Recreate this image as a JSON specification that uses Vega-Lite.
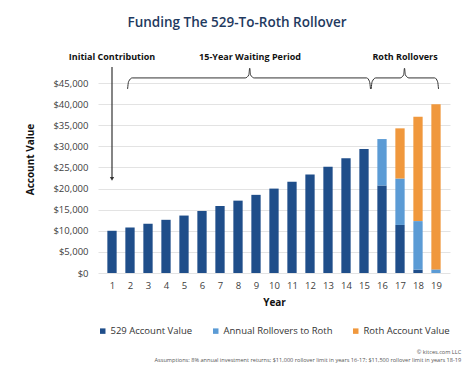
{
  "$schema": "https://vega.github.io/schema/vega-lite/v6.json",
  "width": 352,
  "height": 228,
  "autosize": {"type": "none"},
  "padding": {"left": 98, "top": 45, "right": 24, "bottom": 97},
  "background": "white",
  "config": {
    "font": "Open Sans",
    "view": {"stroke": null},
    "axis": {"labelFont": "Open Sans", "titleFont": "Open Sans", "labelOverlap": false},
    "legend": {"labelFont": "Open Sans"}
  },
  "title": {
    "text": "Funding The 529-To-Roth Rollover",
    "font": "Open Sans",
    "fontSize": 13.5,
    "fontWeight": 600,
    "color": "#1F3A60",
    "anchor": "middle",
    "dx": -37,
    "offset": 16
  },
  "datasets": {
    "bars": [
      {"year": 1, "series": "529 Account Value", "value": 10000},
      {"year": 2, "series": "529 Account Value", "value": 10800},
      {"year": 3, "series": "529 Account Value", "value": 11664},
      {"year": 4, "series": "529 Account Value", "value": 12597},
      {"year": 5, "series": "529 Account Value", "value": 13605},
      {"year": 6, "series": "529 Account Value", "value": 14693},
      {"year": 7, "series": "529 Account Value", "value": 15869},
      {"year": 8, "series": "529 Account Value", "value": 17138},
      {"year": 9, "series": "529 Account Value", "value": 18509},
      {"year": 10, "series": "529 Account Value", "value": 19990},
      {"year": 11, "series": "529 Account Value", "value": 21589},
      {"year": 12, "series": "529 Account Value", "value": 23316},
      {"year": 13, "series": "529 Account Value", "value": 25182},
      {"year": 14, "series": "529 Account Value", "value": 27196},
      {"year": 15, "series": "529 Account Value", "value": 29372},
      {"year": 16, "series": "529 Account Value", "value": 20722},
      {"year": 16, "series": "Annual Rollovers to Roth", "value": 11000},
      {"year": 17, "series": "529 Account Value", "value": 11380},
      {"year": 17, "series": "Annual Rollovers to Roth", "value": 11000},
      {"year": 17, "series": "Roth Account Value", "value": 11880},
      {"year": 18, "series": "529 Account Value", "value": 790},
      {"year": 18, "series": "Annual Rollovers to Roth", "value": 11500},
      {"year": 18, "series": "Roth Account Value", "value": 24710},
      {"year": 19, "series": "Annual Rollovers to Roth", "value": 853},
      {"year": 19, "series": "Roth Account Value", "value": 39107}
    ],
    "braces": [
      {"brace": "a", "year": 1.866, "value": 43600},
      {"brace": "a", "year": 1.92, "value": 45300},
      {"brace": "a", "year": 2.12, "value": 46200},
      {"brace": "a", "year": 8.4, "value": 46200},
      {"brace": "a", "year": 8.6, "value": 46900},
      {"brace": "a", "year": 8.65, "value": 48500},
      {"brace": "a", "year": 8.7, "value": 46900},
      {"brace": "a", "year": 8.9, "value": 46200},
      {"brace": "a", "year": 15.15, "value": 46200},
      {"brace": "a", "year": 15.31, "value": 45300},
      {"brace": "a", "year": 15.36, "value": 43600},
      {"brace": "b", "year": 15.4, "value": 43600},
      {"brace": "b", "year": 15.45, "value": 45300},
      {"brace": "b", "year": 15.65, "value": 46200},
      {"brace": "b", "year": 17.0, "value": 46200},
      {"brace": "b", "year": 17.2, "value": 46900},
      {"brace": "b", "year": 17.25, "value": 48500},
      {"brace": "b", "year": 17.3, "value": 46900},
      {"brace": "b", "year": 17.5, "value": 46200},
      {"brace": "b", "year": 18.93, "value": 46200},
      {"brace": "b", "year": 19.09, "value": 45300},
      {"brace": "b", "year": 19.14, "value": 43600}
    ],
    "labels": [
      {"year": 1, "value": 51200, "label": "Initial Contribution"},
      {"year": 8.67, "value": 51200, "label": "15-Year Waiting Period"},
      {"year": 17.28, "value": 51200, "label": "Roth Rollovers"}
    ],
    "arrow": [
      {"year": 1, "value": 48800, "value2": 22600}
    ],
    "arrowhead": [
      {"year": 1, "value": 22300}
    ],
    "notes": [
      {"year": 20.4, "value": -18700, "label": "© kitces.com LLC"},
      {"year": 20.4, "value": -20600, "label": "Assumptions: 8% annual investment returns; $11,000 rollover limit in years 16-17; $11,500 rollover limit in years 18-19"}
    ]
  },
  "layer": [
    {
      "data": {"name": "bars"},
      "mark": {"type": "bar", "width": 9.3},
      "encoding": {
        "x": {
          "field": "year", "type": "quantitative",
          "scale": {"domain": [0.5, 19.5], "nice": false, "zero": false},
          "axis": {
            "title": "Year", "values": [1,2,3,4,5,6,7,8,9,10,11,12,13,14,15,16,17,18,19], "tickCount": 19,
            "format": "d", "grid": false, "domain": false, "ticks": false, "labelOverlap": false,
            "labelPadding": 7, "labelFontSize": 9.5, "labelColor": "#404040",
            "titleFontSize": 10, "titleFontWeight": "bold", "titleColor": "#111111", "titlePadding": 8
          }
        },
        "y": {
          "field": "value", "type": "quantitative", "stack": "zero",
          "scale": {"domain": [0, 54000], "nice": false},
          "axis": {
            "title": "Account Value", "values": [0,5000,10000,15000,20000,25000,30000,35000,40000,45000], "tickCount": 10,
            "format": "$,.0f", "domain": false, "ticks": false, "labelOverlap": false,
            "gridColor": "#e3e3e3", "gridWidth": 1,
            "labelPadding": 10, "labelFontSize": 9.5, "labelColor": "#404040",
            "titleFontSize": 10, "titleFontWeight": "bold", "titleColor": "#111111", "titlePadding": 17
          }
        },
        "color": {
          "field": "series", "type": "nominal",
          "scale": {
            "domain": ["529 Account Value", "Annual Rollovers to Roth", "Roth Account Value"],
            "range": ["#1F4E8A", "#5B9BD5", "#F0983D"]
          },
          "legend": {
            "title": null, "orient": "bottom", "direction": "horizontal",
            "symbolType": "square", "symbolSize": 30, "symbolStrokeWidth": 0,
            "labelFontSize": 9.5, "labelColor": "#333333", "columnPadding": 18,
            "labelOffset": 3, "offset": 18
          }
        },
        "order": {"field": "series", "sort": "ascending"}
      }
    },
    {
      "data": {"name": "braces"},
      "mark": {"type": "line", "interpolate": "monotone", "color": "#333333", "strokeWidth": 1},
      "encoding": {
        "x": {"field": "year", "type": "quantitative"},
        "y": {"field": "value", "type": "quantitative"},
        "detail": {"field": "brace", "type": "nominal"}
      }
    },
    {
      "data": {"name": "arrow"},
      "mark": {"type": "rule", "color": "#333333", "strokeWidth": 1.2},
      "encoding": {
        "x": {"field": "year", "type": "quantitative"},
        "y": {"field": "value", "type": "quantitative"},
        "y2": {"field": "value2"}
      }
    },
    {
      "data": {"name": "arrowhead"},
      "mark": {"type": "point", "shape": "triangle-down", "filled": true, "color": "#333333", "size": 18, "opacity": 1},
      "encoding": {
        "x": {"field": "year", "type": "quantitative"},
        "y": {"field": "value", "type": "quantitative"}
      }
    },
    {
      "data": {"name": "labels"},
      "mark": {"type": "text", "font": "Open Sans", "fontSize": 9, "fontWeight": "bold", "color": "#111111", "align": "center", "baseline": "middle"},
      "encoding": {
        "x": {"field": "year", "type": "quantitative"},
        "y": {"field": "value", "type": "quantitative"},
        "text": {"field": "label"}
      }
    },
    {
      "data": {"name": "notes"},
      "mark": {"type": "text", "font": "Open Sans", "fontSize": 5.6, "color": "#555555", "align": "right", "baseline": "middle"},
      "encoding": {
        "x": {"field": "year", "type": "quantitative"},
        "y": {"field": "value", "type": "quantitative"},
        "text": {"field": "label"}
      }
    }
  ]
}
